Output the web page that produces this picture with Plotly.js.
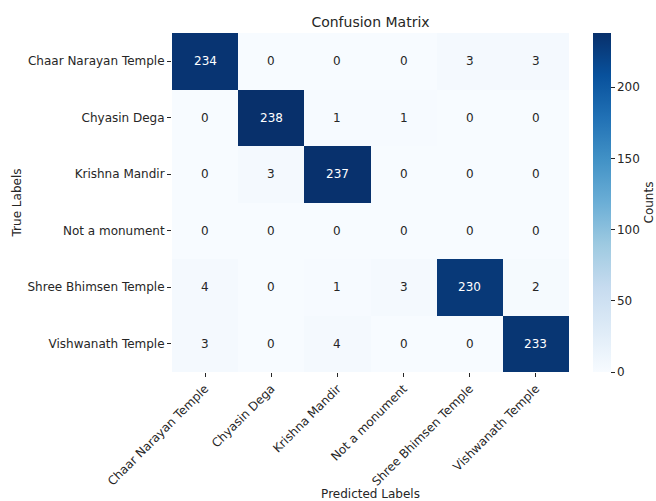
<!DOCTYPE html>
<html>
<head>
<meta charset="utf-8">
<script src="https://cdn.plot.ly/plotly-3.0.1.min.js"></script>
<style>
  html, body { margin: 0; padding: 0; background: #ffffff; }
  #chart { width: 656px; height: 501px; }
</style>
</head>
<body>
<div id="chart"></div>
<script>
// Class names shared by both axes
const classLabels = [
  "Chaar Narayan Temple",
  "Chyasin Dega",
  "Krishna Mandir",
  "Not a monument",
  "Shree Bhimsen Temple",
  "Vishwanath Temple"
];

// Confusion matrix counts, one row per true label
const rowChaarNarayan = [234, 0, 0, 0, 3, 3];
const rowChyasinDega  = [0, 238, 1, 1, 0, 0];
const rowKrishna      = [0, 3, 237, 0, 0, 0];
const rowNotMonument  = [0, 0, 0, 0, 0, 0];
const rowBhimsen      = [4, 0, 1, 3, 230, 2];
const rowVishwanath   = [3, 0, 4, 0, 0, 233];

const counts = [rowChaarNarayan, rowChyasinDega, rowKrishna, rowNotMonument, rowBhimsen, rowVishwanath];

const colorbarTicks = [0, 50, 100, 150, 200];

// Matplotlib "Blues" colormap
const blues = [
  [0.000, "#f7fbff"],
  [0.125, "#deebf7"],
  [0.250, "#c6dbef"],
  [0.375, "#9ecae1"],
  [0.500, "#6baed6"],
  [0.625, "#4292c6"],
  [0.750, "#2171b5"],
  [0.875, "#08519c"],
  [1.000, "#08306b"]
];

const zMax = Math.max(...counts.flat());
const zMin = Math.min(...counts.flat());

const FONT = "DejaVu Sans";
const INK = "#262626";

// Cell value labels, light text on dark cells
const cellNotes = [];
counts.forEach((row, i) => {
  row.forEach((v, j) => {
    cellNotes.push({
      x: classLabels[j], y: classLabels[i], xref: "x", yref: "y",
      text: String(v), showarrow: false,
      font: { family: FONT, size: 12, color: v > (zMin + zMax) / 2 ? "#ffffff" : INK }
    });
  });
});

const trace = {
  type: "heatmap",
  x: classLabels,
  y: classLabels,
  z: counts,
  colorscale: blues,
  zmin: zMin,
  zmax: zMax,
  colorbar: {
    x: 1.0605, xanchor: "left", xpad: 0,
    y: 0.5, yanchor: "middle", ypad: 0,
    len: 1, lenmode: "fraction",
    thickness: 18,
    outlinewidth: 0,
    ticks: "outside", ticklen: 4, tickwidth: 1, tickcolor: INK,
    tickvals: colorbarTicks,
    tickfont: { family: FONT, size: 12, color: INK },
    title: { text: "Counts", side: "right", font: { family: FONT, size: 12, color: INK } }
  }
};

const layout = {
  width: 656,
  height: 501,
  margin: { l: 172, r: 87, t: 33, b: 129, autoexpand: false },
  paper_bgcolor: "#ffffff",
  plot_bgcolor: "#ffffff",
  font: { family: FONT, size: 12, color: INK },
  title: {
    text: "Confusion Matrix",
    x: 0.5, xref: "paper", xanchor: "center",
    y: 1, yref: "paper", yanchor: "bottom", pad: { b: 6 },
    font: { family: FONT, size: 14, color: INK }
  },
  xaxis: {
    type: "category",
    tickangle: -45,
    ticks: "outside", ticklen: 4, tickwidth: 1, tickcolor: INK,
    showgrid: false, zeroline: false, showline: false,
    tickfont: { family: FONT, size: 12, color: INK },
    title: { text: "Predicted Labels", standoff: 4, font: { family: FONT, size: 12, color: INK } }
  },
  yaxis: {
    type: "category",
    autorange: "reversed",
    ticks: "outside", ticklen: 4, tickwidth: 1, tickcolor: INK,
    showgrid: false, zeroline: false, showline: false,
    tickfont: { family: FONT, size: 12, color: INK },
    title: { text: "True Labels", standoff: 3, font: { family: FONT, size: 12, color: INK } }
  },
  annotations: cellNotes
};

Plotly.newPlot("chart", [trace], layout, { displayModeBar: false, staticPlot: true });
</script>
</body>
</html>
